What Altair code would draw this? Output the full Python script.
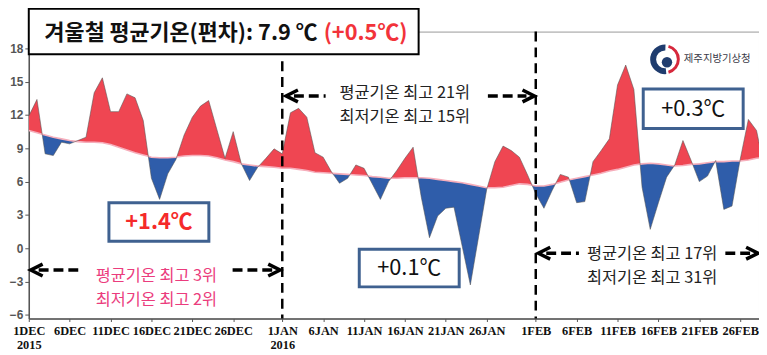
import json
import math
import altair as alt
import pandas as pd

# ---------------- data ----------------
days = list(range(91))  # 0 = 1 Dec 2015 ... 90 = 1 Mar 2016
observed = [
    11.9, 13.4, 8.5, 8.35, 9.55, 9.4, 9.7, 10.0, 14.0, 15.35,
    12.3, 12.3, 13.9, 13.55, 11.5, 6.3, 4.4, 6.7, 8.0, 10.2,
    11.8, 12.8, 13.3, 10.7, 8.1, 10.5, 7.6, 6.1, 7.3, 8.1,
    8.95, 8.5, 12.2, 12.6, 11.8, 8.6, 8.2, 6.9, 5.85, 6.3,
    7.5, 7.2, 5.8, 4.4, 6.0, 7.0, 8.1, 9.1, 4.6, 0.95,
    2.9, 3.6, 3.7, 0.2, -3.3, 1.0, 5.3, 7.8, 9.2, 8.8,
    8.2, 6.6, 4.9, 3.6, 5.2, 6.65, 6.4, 4.1, 4.2, 7.8,
    8.8, 9.85, 14.7, 16.5, 14.3, 5.5, 1.7, 4.1, 6.4, 7.5,
    9.7, 7.9, 6.0, 6.5, 7.9, 3.5, 3.8, 8.0, 11.6, 10.6,
    7.0,
]
normal = [
    10.6, 10.4, 10.2, 10.0, 9.85, 9.7, 9.6, 9.55, 9.55, 9.5,
    9.35, 9.1, 8.85, 8.6, 8.4, 8.2, 8.15, 8.15, 8.2, 8.3,
    8.35, 8.35, 8.3, 8.15, 7.95, 7.8, 7.6, 7.5, 7.4, 7.35,
    7.3, 7.2, 7.2, 7.1, 7.0, 6.85, 6.8, 6.75, 6.7, 6.65,
    6.6, 6.55, 6.45, 6.4, 6.3, 6.3, 6.35, 6.35, 6.35, 6.3,
    6.2, 6.1, 6.0, 5.9, 5.75, 5.6, 5.45, 5.45, 5.5, 5.65,
    5.8, 5.75, 5.6, 5.6, 5.75, 5.95, 6.15, 6.3, 6.45, 6.6,
    6.75, 6.95, 7.1, 7.3, 7.5, 7.6, 7.65, 7.6, 7.5, 7.4,
    7.45, 7.55, 7.6, 7.7, 7.8, 7.8, 7.85, 7.85, 7.95, 8.1,
    8.2,
]
tick_days = [0, 5, 10, 15, 20, 25, 31, 36, 41, 46, 51, 56, 62, 67, 72, 77, 82, 87]
tick_labels = ["1DEC\n2015", "6DEC", "11DEC", "16DEC", "21DEC", "26DEC",
               "1JAN\n2016", "6JAN", "11JAN", "16JAN", "21JAN", "26JAN",
               "1FEB", "6FEB", "11FEB", "16FEB", "21FEB", "26FEB"]
y_ticks = [-6, -3, 0, 3, 6, 9, 12, 15, 18]
month_starts = [31, 62]

title_main = "겨울철 평균기온(편차): 7.9 ℃"
title_anom = "(+0.5℃)"
dec_lines = ["평균기온 최고 3위", "최저기온 최고 2위"]
jan_lines = ["평균기온 최고 21위", "최저기온 최고 15위"]
feb_lines = ["평균기온 최고 17위", "최저기온 최고 31위"]
dec_anom, jan_anom, feb_anom = "+1.4℃", "+0.1℃", "+0.3℃"
agency = "제주지방기상청"

# ---------------- build area table (split at crossings) ----------------
rows = []
n = len(days)
for i in range(n):
    o, m = observed[i], normal[i]
    rows.append((days[i], o, m))
    if i < n - 1:
        d0 = o - m
        d1 = observed[i + 1] - normal[i + 1]
        if d0 * d1 < 0:
            t = d0 / (d0 - d1)
            xm = days[i] + t * (days[i + 1] - days[i])
            mm = m + t * (normal[i + 1] - m)
            rows.append((xm, mm, mm))
df = pd.DataFrame(rows, columns=["day", "obs", "norm"])
df["hi"] = df[["obs", "norm"]].max(axis=1)
df["lo"] = df[["obs", "norm"]].min(axis=1)

# ---------------- style ----------------
RED = "#EF4652"
BLUE = "#2F5DAA"
PINK_TXT = "#EB3C7D"
BOX_BLUE = "#3F6190"
KFONT = "Noto Sans CJK KR"

label_expr = " : ".join(
    f"datum.value == {d} ? {json.dumps(l.split(chr(10)))}" for d, l in zip(tick_days, tick_labels)
) + " : ''"

xscale = alt.Scale(domain=[0, 89.3], nice=False, zero=False)
yscale = alt.Scale(domain=[-6.33, 19.51], nice=False, zero=False)
xaxis = alt.Axis(values=tick_days, labelExpr=label_expr, title=None, grid=False,
                 labelFont="Liberation Serif", labelFontWeight="bold", labelFontSize=12.5,
                 labelColor="#111", labelLineHeight=14, labelOverlap=False, labelFlush=False,
                 labelPadding=3, tickSize=3, tickColor="#555", domainColor="#555",
                 domainWidth=1.5, labelBaseline="top")
yaxis = alt.Axis(values=y_ticks, title=None, grid=False, labelFont="Liberation Sans",
                 labelFontWeight="bold", labelFontSize=12, labelColor="#555",
                 tickSize=4, tickColor="#555", domainColor="#555", domainWidth=1.5,
                 labelPadding=2)
x_enc = alt.X("day:Q", scale=xscale, axis=xaxis)

base = alt.Chart(df)
red_area = base.mark_area(color=RED, clip=True).encode(
    x=x_enc, y=alt.Y("hi:Q", scale=yscale, axis=yaxis), y2="norm:Q")
blue_area = base.mark_area(color=BLUE, clip=True).encode(
    x=x_enc, y=alt.Y("lo:Q", scale=yscale, axis=yaxis), y2="norm:Q")
obs_line = base.mark_line(color="#555", strokeWidth=0.8, opacity=0.7, clip=True).encode(
    x=x_enc, y=alt.Y("obs:Q", scale=yscale, axis=yaxis))
norm_line = base.mark_line(color="#F6AEBB", strokeWidth=1.6, clip=True).encode(
    x=x_enc, y=alt.Y("norm:Q", scale=yscale, axis=yaxis))

dummy = alt.Data(values=[{}])


def text(x, y, s, **kw):
    return alt.Chart(dummy).mark_text(text=s, **kw).encode(x=alt.value(x), y=alt.value(y))


def box(x, x2, y, y2, stroke, sw):
    return alt.Chart(dummy).mark_rect(fill="white", stroke=stroke, strokeWidth=sw).encode(
        x=alt.value(x), x2=alt.value(x2), y=alt.value(y), y2=alt.value(y2))


def dash(x, x2, y):
    return alt.Chart(dummy).mark_rule(color="black", strokeWidth=3.5, strokeDash=[10, 5]).encode(
        x=alt.value(x), x2=alt.value(x2), y=alt.value(y))


def head(x, y, left=True):
    shape = "M1,-1L-1,0L1,1" if left else "M-1,-1L1,0L-1,1"
    return alt.Chart(dummy).mark_point(shape=shape, filled=False, size=144, strokeWidth=3.5,
                                       color="black", opacity=1).encode(
        x=alt.value(x), y=alt.value(y))


# month divider dashed lines
jan_rule = alt.Chart(alt.Data(values=[{"day": month_starts[0]}])).mark_rule(
    color="black", strokeWidth=2.5, strokeDash=[10, 6]).encode(
    x=x_enc, y=alt.value(30), y2=alt.value(290))
feb_rule = alt.Chart(alt.Data(values=[{"day": month_starts[1]}])).mark_rule(
    color="black", strokeWidth=2.5, strokeDash=[10, 6]).encode(
    x=x_enc, y=alt.value(0), y2=alt.value(290))

layers = [red_area, blue_area, norm_line, obs_line, jan_rule, feb_rule]

# title box
layers += [
    box(0, 394, -23, 23, "black", 2),
    text(16, 1, title_main, align="left", baseline="middle", font=KFONT,
         fontSize=22, fontWeight="bold", color="#111"),
    text(298, 1, title_anom, align="left", baseline="middle", font=KFONT,
         fontSize=22, fontWeight="bold", color="#F2333A"),
]

# value boxes
layers += [
    box(81, 182, 173, 212, BOX_BLUE, 3),
    text(131.5, 193, dec_anom, align="center", baseline="middle", font=KFONT,
         fontSize=22, fontWeight="bold", color="#F52A2A"),
    box(334, 435, 220, 258, BOX_BLUE, 3),
    text(384.5, 239.5, jan_anom, align="center", baseline="middle", font=KFONT,
         fontSize=22, color="#111"),
    box(621, 722, 58, 98, BOX_BLUE, 3),
    text(671.5, 78.5, feb_anom, align="center", baseline="middle", font=KFONT,
         fontSize=22, color="#111"),
]

# arrows with rank texts
FS, LH = 16.5, 24
layers += [
    head(8, 241, True), dash(10, 55, 241), dash(206, 246, 241), head(248, 241, False),
    text(129, 247, dec_lines, align="center", baseline="middle", font=KFONT,
         fontSize=FS, lineHeight=LH, color=PINK_TXT),
    head(266, 65, True), dash(268, 300, 65), dash(464, 503, 65), head(505, 65, False),
    text(380, 62, jan_lines, align="center", baseline="middle", font=KFONT,
         fontSize=FS, lineHeight=LH, color="#222"),
    head(521, 224, True), dash(523, 556, 224), dash(704, 729, 224), head(731, 224, False),
    text(630, 225, feb_lines, align="center", baseline="middle", font=KFONT,
         fontSize=FS, lineHeight=LH, color="#222"),
]

# agency logo
cx, cy = 643, 28
layers += [
    alt.Chart(dummy).mark_arc(theta=math.radians(175), theta2=math.radians(362),
                              radius=15, radius2=9, color="#1F3C6E").encode(
        x=alt.value(cx), y=alt.value(cy)),
    alt.Chart(dummy).mark_arc(theta=math.radians(15), theta2=math.radians(165),
                              radius=15, radius2=12, color="#D6283C").encode(
        x=alt.value(cx), y=alt.value(cy)),
    alt.Chart(dummy).mark_circle(size=110, color="#1F3C6E", opacity=1).encode(
        x=alt.value(cx + 2), y=alt.value(cy + 3)),
    text(662, 28, agency, align="left", baseline="middle", font=KFONT,
         fontSize=10.5, color="#3B3B48"),
]

chart = alt.layer(*layers).properties(
    width=738, height=290,
    autosize=alt.AutoSizeParams(type="none"),
    padding={"left": 21, "top": 22, "right": 0, "bottom": 34},
    background="white",
).configure_view(stroke="#999", strokeWidth=1)

chart.save("out.html", embed_options={"renderer": "svg", "actions": False})
